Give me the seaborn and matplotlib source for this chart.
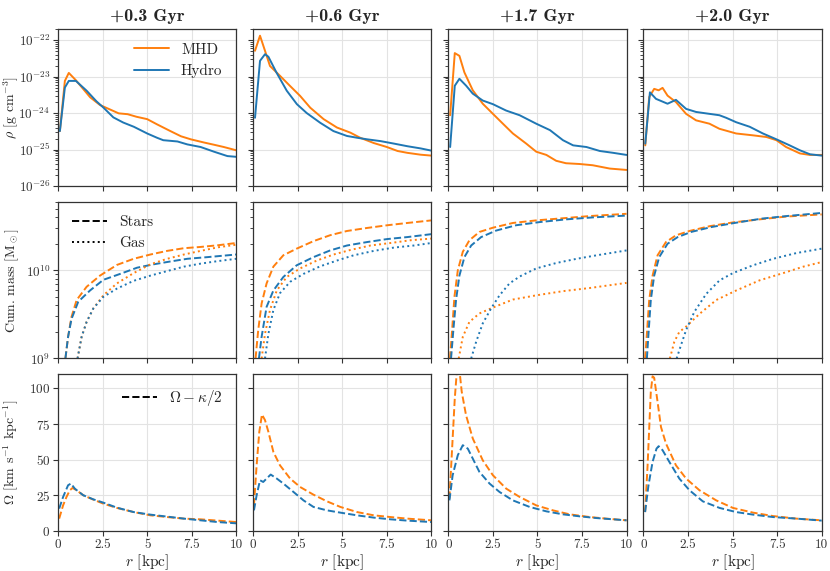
import numpy as np
import matplotlib.pyplot as plt
import seaborn as sns
from matplotlib.lines import Line2D
from matplotlib.ticker import FuncFormatter, NullFormatter, FixedLocator

# VARIABLES--------
times = ['+0.3 Gyr', '+0.6 Gyr', '+1.7 Gyr', '+2.0 Gyr']
c_mhd = '#ff7f0e'
c_hydro = '#1f77b4'
#------------------

# gas density profiles [g cm^-3]
r_rho_mhd_1 = [0.1, 0.38, 0.6, 1.0, 1.8, 2.35, 2.9, 3.4, 3.9, 4.4, 5.0, 5.55, 6.3, 6.9, 7.45, 8.2, 8.75, 9.3, 10]
rho_mhd_1 = [3.2e-25, 7.6e-24, 1.26e-23, 7.9e-24, 2.7e-24, 1.66e-24, 1.26e-24, 9.8e-25, 9.3e-25, 7.9e-25,
             6.8e-25, 4.9e-25, 3.2e-25, 2.3e-25, 1.9e-25, 1.55e-25, 1.35e-25, 1.17e-25, 9.5e-26]
r_rho_hyd_1 = [0.1, 0.38, 0.6, 1.0, 1.6, 2.15, 2.55, 3.1, 3.65, 4.25, 5.0, 5.55, 5.9, 6.7, 7.25, 8.0, 8.75, 9.5, 10]
rho_hyd_1 = [3.2e-25, 5.0e-24, 7.6e-24, 7.6e-24, 4.1e-24, 2.1e-24, 1.4e-24, 7.6e-25, 5.5e-25, 4.2e-25,
             2.75e-25, 2.1e-25, 1.8e-25, 1.66e-25, 1.38e-25, 1.17e-25, 8.7e-26, 6.6e-26, 6.3e-26]

r_rho_mhd_2 = [0.1, 0.38, 0.66, 0.94, 1.5, 2.07, 2.63, 3.2, 3.95, 4.7, 5.45, 6.0, 6.77, 7.5, 8.1, 8.65, 9.4, 10]
rho_mhd_2 = [5.1e-23, 1.32e-22, 5.1e-23, 1.95e-23, 1.05e-23, 5.5e-24, 2.95e-24, 1.4e-24, 6.8e-25, 4.0e-25,
             2.9e-25, 2.1e-25, 1.5e-25, 1.17e-25, 9.1e-26, 8.1e-26, 7.2e-26, 6.8e-26]
r_rho_hyd_2 = [0.1, 0.38, 0.66, 0.85, 1.3, 1.88, 2.45, 3.0, 3.76, 4.5, 5.26, 5.83, 6.4, 7.14, 7.9, 8.65, 9.4, 10]
rho_hyd_2 = [7.4e-25, 2.7e-23, 4.1e-23, 3.5e-23, 1.3e-23, 4.1e-24, 1.75e-24, 1.0e-24, 5.4e-25, 3.2e-25,
             2.35e-25, 2.1e-25, 1.9e-25, 1.7e-25, 1.45e-25, 1.23e-25, 1.07e-25, 9.3e-26]

r_rho_mhd_3 = [0.1, 0.36, 0.62, 0.9, 1.37, 1.93, 2.5, 3.06, 3.62, 4.37, 4.93, 5.5, 6.05, 6.6, 7.37, 8.1, 9.06, 10]
rho_mhd_3 = [8.7e-25, 4.4e-23, 3.7e-23, 1.3e-23, 4.2e-24, 1.8e-24, 9.5e-25, 5.1e-25, 2.75e-25, 1.45e-25,
             8.7e-26, 7.1e-26, 4.9e-26, 4.2e-26, 4.0e-26, 3.7e-26, 3.0e-26, 2.75e-26]
r_rho_hyd_3 = [0.1, 0.36, 0.62, 1.0, 1.37, 1.93, 2.5, 3.24, 4.0, 4.93, 5.7, 6.43, 7.0, 7.75, 8.5, 9.25, 10]
rho_hyd_3 = [1.17e-25, 5.6e-24, 8.7e-24, 5.6e-24, 3.4e-24, 2.2e-24, 1.75e-24, 1.17e-24, 8.7e-25, 5.1e-25,
             3.4e-25, 1.8e-25, 1.3e-25, 1.17e-25, 9.1e-26, 8.1e-26, 7.1e-26]

r_rho_mhd_4 = [0.1, 0.32, 0.6, 0.85, 1.07, 1.35, 1.82, 2.39, 2.95, 3.7, 4.26, 5.2, 6.13, 6.9, 7.46, 8.0, 8.78, 9.34, 10]
rho_mhd_4 = [1.3e-25, 2.75e-24, 4.6e-24, 4.2e-24, 4.9e-24, 3.0e-24, 2.0e-24, 9.5e-25, 6.3e-25, 5.1e-25,
             3.7e-25, 2.75e-25, 2.45e-25, 2.2e-25, 1.8e-25, 1.17e-25, 7.8e-26, 7.1e-26, 7.1e-26]
r_rho_hyd_4 = [0.1, 0.36, 0.7, 1.35, 1.82, 2.39, 2.95, 3.7, 4.26, 4.64, 5.2, 5.96, 6.7, 7.46, 8.2, 8.78, 9.34, 10]
rho_hyd_4 = [1.45e-25, 3.7e-24, 2.45e-24, 1.8e-24, 2.3e-24, 1.3e-24, 1.07e-24, 9.5e-25, 8.7e-25, 7.4e-25,
             5.6e-25, 4.2e-25, 2.75e-25, 1.9e-25, 1.3e-25, 9.5e-26, 7.4e-26, 6.8e-26]

# cumulative mass profiles [Msun]
r_star_mhd_1 = [0.41, 0.56, 0.75, 1.04, 1.6, 2.35, 3.3, 4.24, 5.18, 6.12, 7.06, 8.0, 8.95, 10]
star_mhd_1 = [1.0e9, 1.76e9, 2.95e9, 4.6e9, 6.5e9, 8.7e9, 1.15e10, 1.35e10, 1.51e10, 1.66e10, 1.78e10, 1.84e10, 1.92e10, 2.04e10]
r_star_hyd_1 = [0.41, 0.56, 0.75, 1.13, 1.79, 2.54, 3.48, 4.43, 5.37, 6.31, 7.25, 8.38, 10]
star_hyd_1 = [1.0e9, 1.76e9, 2.8e9, 4.4e9, 5.9e9, 7.8e9, 9.1e9, 1.07e10, 1.17e10, 1.26e10, 1.35e10, 1.41e10, 1.51e10]
r_gas_mhd_1 = [1.09, 1.32, 1.6, 1.98, 2.54, 3.3, 4.24, 5.18, 6.12, 7.06, 8.0, 8.95, 10]
gas_mhd_1 = [1.0e9, 1.76e9, 2.6e9, 3.7e9, 5.2e9, 7.1e9, 9.3e9, 1.17e10, 1.35e10, 1.51e10, 1.66e10, 1.82e10, 1.95e10]
r_gas_hyd_1 = [1.09, 1.32, 1.6, 1.98, 2.54, 3.3, 4.24, 5.18, 6.12, 7.06, 8.0, 8.95, 10]
gas_hyd_1 = [1.0e9, 1.76e9, 2.6e9, 3.7e9, 5.0e9, 6.2e9, 7.6e9, 8.7e9, 9.8e9, 1.1e10, 1.19e10, 1.27e10, 1.35e10]

r_star_mhd_2 = [0.13, 0.28, 0.47, 0.75, 1.13, 1.69, 2.44, 3.38, 4.32, 5.26, 6.39, 7.52, 8.65, 10]
star_mhd_2 = [1.0e9, 2.1e9, 4.2e9, 7.1e9, 1.1e10, 1.48e10, 1.76e10, 2.14e10, 2.5e10, 2.79e10, 3.02e10, 3.24e10, 3.44e10, 3.68e10]
r_star_hyd_2 = [0.32, 0.47, 0.75, 1.13, 1.69, 2.44, 3.38, 4.32, 5.26, 6.39, 7.52, 8.65, 10]
star_hyd_2 = [1.0e9, 1.76e9, 3.85e9, 5.9e9, 8.4e9, 1.14e10, 1.41e10, 1.68e10, 1.91e10, 2.09e10, 2.26e10, 2.38e10, 2.57e10]
r_gas_mhd_2 = [0.47, 0.66, 0.94, 1.32, 1.88, 2.63, 3.57, 4.51, 5.45, 6.58, 7.71, 8.83, 10]
gas_mhd_2 = [1.0e9, 1.9e9, 3.55e9, 5.9e9, 8.4e9, 1.05e10, 1.29e10, 1.51e10, 1.7e10, 1.91e10, 2.04e10, 2.19e10, 2.29e10]
r_gas_hyd_2 = [0.66, 0.85, 1.13, 1.5, 2.07, 2.82, 3.76, 4.7, 5.64, 6.77, 7.9, 9.02, 10]
gas_hyd_2 = [1.0e9, 1.9e9, 3.55e9, 5.5e9, 7.4e9, 9.1e9, 1.11e10, 1.29e10, 1.48e10, 1.66e10, 1.81e10, 1.91e10, 2.04e10]

r_star_mhd_3 = [0.09, 0.21, 0.34, 0.53, 0.81, 1.18, 1.74, 2.5, 3.62, 4.93, 6.43, 7.94, 10]
star_mhd_3 = [1.0e9, 2.1e9, 5.0e9, 1.0e10, 1.62e10, 2.19e10, 2.72e10, 3.04e10, 3.44e10, 3.68e10, 3.89e10, 4.12e10, 4.37e10]
r_star_hyd_3 = [0.15, 0.28, 0.43, 0.62, 0.9, 1.28, 1.84, 2.68, 3.8, 5.12, 6.62, 8.12, 10]
star_hyd_3 = [1.0e9, 2.1e9, 4.6e9, 8.7e9, 1.41e10, 1.91e10, 2.38e10, 2.82e10, 3.24e10, 3.52e10, 3.78e10, 3.98e10, 4.17e10]
r_gas_mhd_3 = [0.58, 0.81, 1.18, 1.74, 2.5, 3.62, 4.93, 6.43, 7.94, 10]
gas_mhd_3 = [1.0e9, 1.76e9, 2.6e9, 3.24e9, 3.78e9, 4.66e9, 5.2e9, 5.8e9, 6.3e9, 7.2e9]
r_gas_hyd_3 = [1.28, 1.56, 1.93, 2.4, 2.87, 3.43, 4.0, 4.93, 6.06, 7.2, 8.33, 10]
gas_hyd_3 = [1.0e9, 1.55e9, 2.5e9, 3.7e9, 5.2e9, 7.1e9, 8.5e9, 1.05e10, 1.21e10, 1.35e10, 1.48e10, 1.68e10]

r_star_mhd_4 = [0.09, 0.19, 0.32, 0.51, 0.79, 1.26, 1.82, 2.58, 3.7, 5.02, 6.52, 8.03, 10]
star_mhd_4 = [1.0e9, 1.9e9, 4.6e9, 8.7e9, 1.48e10, 2.09e10, 2.49e10, 2.79e10, 3.16e10, 3.49e10, 3.78e10, 4.07e10, 4.3e10]
r_star_hyd_4 = [0.19, 0.28, 0.41, 0.6, 0.88, 1.35, 1.92, 2.67, 3.8, 5.11, 6.62, 8.03, 10]
star_hyd_4 = [1.0e9, 1.9e9, 4.6e9, 8.7e9, 1.41e10, 2.0e10, 2.38e10, 2.72e10, 3.09e10, 3.44e10, 3.85e10, 4.12e10, 4.47e10]
r_gas_mhd_4 = [1.48, 1.73, 2.01, 2.39, 3.14, 4.08, 5.2, 6.52, 7.84, 8.97, 10]
gas_mhd_4 = [1.0e9, 1.55e9, 2.0e9, 2.3e9, 3.2e9, 4.6e9, 5.9e9, 7.7e9, 9.3e9, 1.1e10, 1.24e10]
r_gas_hyd_4 = [1.86, 2.1, 2.39, 2.86, 3.52, 4.27, 5.02, 6.15, 7.27, 8.59, 10]
gas_hyd_4 = [1.0e9, 1.41e9, 2.1e9, 3.4e9, 5.4e9, 7.7e9, 9.3e9, 1.14e10, 1.35e10, 1.57e10, 1.76e10]

# Omega - kappa/2 profiles [km s^-1 kpc^-1]
r_om_mhd_1 = [0.06, 0.28, 0.47, 0.66, 0.81, 1.04, 1.41, 1.98, 2.54, 3.3, 4.24, 5.18, 6.12, 7.06, 8.0, 8.95, 10]
om_mhd_1 = [8.7, 18, 23.9, 28.6, 30.2, 28.6, 25.1, 22, 19.2, 16.2, 13.3, 11.0, 9.8, 8.7, 8.2, 7.3, 6.3]
r_om_hyd_1 = [0.06, 0.28, 0.56, 0.72, 0.94, 1.41, 1.98, 2.54, 3.3, 4.24, 5.18, 6.12, 7.06, 8.0, 8.95, 10]
om_hyd_1 = [15.7, 23.9, 32.1, 33.3, 29.7, 25.1, 22.2, 19.9, 16.4, 13.3, 11.5, 10.1, 8.7, 7.5, 6.3, 5.4]

r_om_mhd_2 = [0.04, 0.19, 0.34, 0.49, 0.66, 0.85, 1.13, 1.5, 2.07, 2.63, 3.38, 4.14, 4.89, 5.83, 6.77, 7.71, 8.65, 10]
om_mhd_2 = [18, 46, 69.6, 81.7, 77.8, 69.6, 55.5, 46.1, 36.8, 30.9, 25.5, 20.8, 16.9, 13.3, 11.0, 9.8, 8.7, 7.5]
r_om_hyd_2 = [0.04, 0.19, 0.38, 0.56, 0.75, 0.98, 1.32, 1.69, 2.26, 2.82, 3.38, 4.14, 4.89, 5.83, 6.77, 7.71, 8.65, 10]
om_hyd_2 = [14.5, 25, 35.6, 34.4, 36.8, 39.6, 36.8, 33.3, 27.4, 21.5, 16.9, 14.5, 12.9, 11.0, 9.4, 8.2, 7.3, 6.3]

r_om_mhd_3 = [0.06, 0.21, 0.36, 0.5, 0.62, 0.75, 0.99, 1.37, 1.93, 2.5, 3.25, 4.0, 4.93, 5.87, 6.81, 7.94, 8.87, 10]
om_mhd_3 = [22.7, 57.8, 93, 116, 113, 97.7, 81.3, 64.9, 49.6, 39.1, 29.7, 23.9, 18, 14.5, 11.7, 9.8, 8.7, 7.5]
r_om_hyd_3 = [0.06, 0.24, 0.53, 0.81, 1.09, 1.37, 1.74, 2.31, 2.87, 3.62, 4.56, 5.5, 6.43, 7.37, 8.31, 10]
om_hyd_3 = [21.5, 39.1, 53.2, 60.2, 57.8, 50.8, 41.5, 33.3, 27.4, 21.5, 16.9, 13.8, 11.7, 10.3, 9.1, 7.5]

r_om_mhd_4 = [0.09, 0.23, 0.41, 0.51, 0.6, 0.79, 0.98, 1.26, 1.82, 2.39, 3.14, 4.08, 5.02, 6.15, 7.27, 8.59, 10]
om_mhd_4 = [13.3, 46, 97.7, 108.5, 107.5, 90.6, 73, 61.4, 46.1, 36.8, 28.6, 21.5, 16.2, 12.9, 10.5, 8.7, 7.5]
r_om_hyd_4 = [0.09, 0.28, 0.51, 0.73, 0.85, 1.07, 1.45, 2.01, 2.58, 3.33, 4.27, 5.2, 6.15, 7.27, 8.59, 10]
om_hyd_4 = [13.3, 32.1, 48.5, 57.8, 59.5, 56.7, 48.5, 36.8, 28.6, 20.8, 16.2, 13.3, 11.5, 9.8, 8.7, 7.3]


def main():
    sns.set_style('ticks')
    plt.rcParams['font.family'] = 'serif'
    plt.rcParams['font.serif'] = ['cmr10', 'DejaVu Serif']
    plt.rcParams['mathtext.fontset'] = 'cm'
    plt.rcParams['axes.formatter.use_mathtext'] = True
    plt.rcParams['axes.unicode_minus'] = False

    rho = [(r_rho_mhd_1, rho_mhd_1, r_rho_hyd_1, rho_hyd_1),
           (r_rho_mhd_2, rho_mhd_2, r_rho_hyd_2, rho_hyd_2),
           (r_rho_mhd_3, rho_mhd_3, r_rho_hyd_3, rho_hyd_3),
           (r_rho_mhd_4, rho_mhd_4, r_rho_hyd_4, rho_hyd_4)]
    mass = [(r_star_mhd_1, star_mhd_1, r_star_hyd_1, star_hyd_1, r_gas_mhd_1, gas_mhd_1, r_gas_hyd_1, gas_hyd_1),
            (r_star_mhd_2, star_mhd_2, r_star_hyd_2, star_hyd_2, r_gas_mhd_2, gas_mhd_2, r_gas_hyd_2, gas_hyd_2),
            (r_star_mhd_3, star_mhd_3, r_star_hyd_3, star_hyd_3, r_gas_mhd_3, gas_mhd_3, r_gas_hyd_3, gas_hyd_3),
            (r_star_mhd_4, star_mhd_4, r_star_hyd_4, star_hyd_4, r_gas_mhd_4, gas_mhd_4, r_gas_hyd_4, gas_hyd_4)]
    omega = [(r_om_mhd_1, om_mhd_1, r_om_hyd_1, om_hyd_1),
             (r_om_mhd_2, om_mhd_2, r_om_hyd_2, om_hyd_2),
             (r_om_mhd_3, om_mhd_3, r_om_hyd_3, om_hyd_3),
             (r_om_mhd_4, om_mhd_4, r_om_hyd_4, om_hyd_4)]

    f, axes = plt.subplots(3, 4, figsize=(8.3, 5.71), dpi=100, sharex=True, sharey='row')
    f.subplots_adjust(left=0.07, right=0.99, top=0.949, bottom=0.07, wspace=0.095, hspace=0.1)

    lw = 1.4
    for j in range(4):
        # density row
        ax = axes[0, j]
        rm, vm, rh, vh = rho[j]
        sns.lineplot(x=rm, y=vm, ax=ax, color=c_mhd, lw=lw, label='MHD' if j == 0 else None)
        sns.lineplot(x=rh, y=vh, ax=ax, color=c_hydro, lw=lw, label='Hydro' if j == 0 else None)
        ax.set_yscale('log')
        ax.set_title(times[j], fontfamily='cmb10', fontsize=13, pad=6)

        # cumulative mass row
        ax = axes[1, j]
        rsm, vsm, rsh, vsh, rgm, vgm, rgh, vgh = mass[j]
        sns.lineplot(x=rsm, y=vsm, ax=ax, color=c_mhd, lw=lw, linestyle='--')
        sns.lineplot(x=rsh, y=vsh, ax=ax, color=c_hydro, lw=lw, linestyle='--')
        sns.lineplot(x=rgm, y=vgm, ax=ax, color=c_mhd, lw=lw, linestyle=':')
        sns.lineplot(x=rgh, y=vgh, ax=ax, color=c_hydro, lw=lw, linestyle=':')
        ax.set_yscale('log')

        # Omega - kappa/2 row
        ax = axes[2, j]
        rm, vm, rh, vh = omega[j]
        sns.lineplot(x=rm, y=vm, ax=ax, color=c_mhd, lw=lw, linestyle='--')
        sns.lineplot(x=rh, y=vh, ax=ax, color=c_hydro, lw=lw, linestyle='--')
        ax.set_xlabel(r'$r$ [kpc]', fontsize=11, labelpad=1)

    for ax in axes.flat:
        ax.grid(True, which='major', color='#e3e3e3', lw=0.8)
        ax.set_axisbelow(True)
        for s in ax.spines.values():
            s.set_color('#333333')
            s.set_linewidth(0.9)
        ax.tick_params(labelsize=9.5, colors='#333333', length=3.5, width=0.8, pad=2)
        ax.tick_params(which='minor', length=2, width=0.6)
        ax.set_xlim(0, 10)
        ax.set_ylabel('')

    axes[0, 0].set_ylim(1e-26, 2e-22)
    axes[0, 0].yaxis.set_major_locator(FixedLocator([1e-26, 1e-25, 1e-24, 1e-23, 1e-22]))
    axes[1, 0].set_ylim(1e9, 6e10)
    axes[1, 0].yaxis.set_major_locator(FixedLocator([1e9, 1e10]))
    axes[1, 0].yaxis.set_minor_formatter(NullFormatter())
    axes[2, 0].set_ylim(0, 110)
    axes[2, 0].set_yticks([0, 25, 50, 75, 100])
    axes[2, 0].set_xticks([0, 2.5, 5, 7.5, 10])
    axes[2, 0].xaxis.set_major_formatter(FuncFormatter(lambda v, p: f'{v:g}'))

    axes[0, 0].set_ylabel(r'$\rho$ [g cm$^{-3}$]', fontsize=10)
    axes[1, 0].set_ylabel(r'Cum. mass [M$_\odot$]', fontsize=10)
    axes[2, 0].set_ylabel(r'$\Omega$ [km s$^{-1}$ kpc$^{-1}$]', fontsize=10)
    for ax in axes[:, 0]:
        ax.yaxis.set_label_coords(-0.207, 0.5)

    axes[0, 0].legend(loc='upper right', frameon=False, fontsize=11, handlelength=2.3)
    for ax in axes[0, 1:]:
        if ax.get_legend() is not None:
            ax.get_legend().remove()

    h_ls = [Line2D([], [], color='k', lw=lw, linestyle='--'),
            Line2D([], [], color='k', lw=lw, linestyle=':')]
    axes[1, 0].legend(h_ls, ['Stars', 'Gas'], loc='upper left', frameon=False, fontsize=11, handlelength=2.3)
    axes[2, 0].legend([Line2D([], [], color='k', lw=lw, linestyle='--')], [r'$\Omega - \kappa/2$'],
                      loc='upper right', frameon=False, fontsize=11, handlelength=2.3)

    plt.savefig('out.png', dpi=100)


if __name__ == '__main__':
    main()
